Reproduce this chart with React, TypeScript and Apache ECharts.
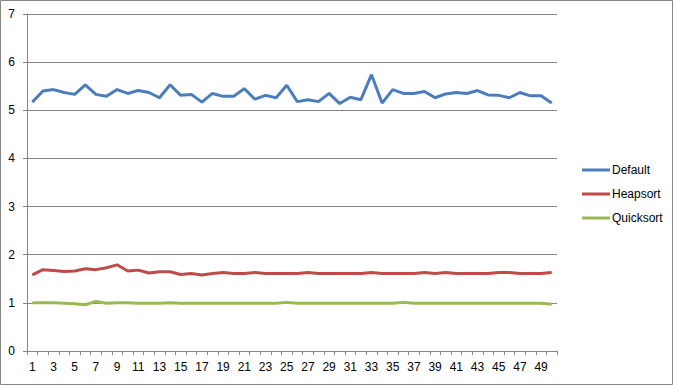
import React, { useEffect, useRef } from "react";
import * as echarts from "echarts";

const categories: string[] = Array.from({ length: 50 }, (_, i) => String(i + 1));

const defaultValues: number[] = [
  5.17, 5.4, 5.43, 5.37, 5.33, 5.53, 5.33, 5.29, 5.43, 5.35,
  5.41, 5.37, 5.26, 5.53, 5.31, 5.33, 5.17, 5.35, 5.29, 5.29,
  5.45, 5.23, 5.31, 5.26, 5.52, 5.18, 5.22, 5.18, 5.35, 5.14,
  5.27, 5.22, 5.74, 5.15, 5.43, 5.35, 5.35, 5.39, 5.26, 5.34,
  5.37, 5.35, 5.41, 5.32, 5.31, 5.26, 5.37, 5.3, 5.3, 5.15,
];

const heapsortValues: number[] = [
  1.58, 1.69, 1.67, 1.65, 1.66, 1.71, 1.69, 1.73, 1.79, 1.66,
  1.68, 1.62, 1.645, 1.645, 1.59, 1.61, 1.58, 1.61, 1.63, 1.61,
  1.61, 1.63, 1.61, 1.61, 1.61, 1.61, 1.63, 1.61, 1.61, 1.61,
  1.61, 1.61, 1.63, 1.61, 1.61, 1.61, 1.61, 1.63, 1.61, 1.63,
  1.61, 1.61, 1.61, 1.61, 1.63, 1.63, 1.61, 1.61, 1.61, 1.63,
];

const quicksortValues: number[] = [
  1.0, 1.0, 1.0, 0.99, 0.98, 0.96, 1.03, 0.99, 1.0, 1.0,
  0.99, 0.99, 0.99, 1.0, 0.99, 0.99, 0.99, 0.99, 0.99, 0.99,
  0.99, 0.99, 0.99, 0.99, 1.01, 0.99, 0.99, 0.99, 0.99, 0.99,
  0.99, 0.99, 0.99, 0.99, 0.99, 1.01, 0.99, 0.99, 0.99, 0.99,
  0.99, 0.99, 0.99, 0.99, 0.99, 0.99, 0.99, 0.99, 0.99, 0.97,
];

const seriesNames: string[] = ["Default", "Heapsort", "Quicksort"];
const seriesColors: string[] = ["#4A7EBB", "#BE4B48", "#98B954"];

export default function App() {
  const ref = useRef<HTMLDivElement>(null);

  useEffect(() => {
    if (!ref.current) return;
    const chart = echarts.init(ref.current, undefined, { renderer: "svg" });
    const font = "'Liberation Sans', Arial, sans-serif";
    const gray = "#868686";
    const seriesData = [defaultValues, heapsortValues, quicksortValues];
    chart.setOption({
      animation: false,
      backgroundColor: "#ffffff",
      textStyle: { fontFamily: font },
      grid: { left: 27, top: 14, right: 116, bottom: 34, containLabel: false },
      legend: {
        orient: "vertical",
        left: 577,
        top: 159,
        itemWidth: 28,
        itemHeight: 14,
        itemGap: 12,
        icon: "path://M0,6 L28,6 L28,9 L0,9 Z",
        textStyle: { fontFamily: font, fontSize: 12, color: "#000", padding: [0, 0, 0, -3] },
        data: seriesNames,
      },
      xAxis: {
        type: "category",
        data: categories,
        boundaryGap: true,
        axisLine: { show: true, lineStyle: { color: gray, width: 1 } },
        axisTick: { show: true, interval: 0, length: 4, lineStyle: { color: gray } },
        axisLabel: { interval: 1, color: "#000", fontFamily: font, fontSize: 12, margin: 10 },
        splitLine: { show: false },
      },
      yAxis: {
        type: "value",
        min: 0,
        max: 7,
        interval: 1,
        axisLine: { show: true, lineStyle: { color: gray, width: 1 } },
        axisTick: { show: true, length: 4, lineStyle: { color: gray } },
        axisLabel: { color: "#000", fontFamily: font, fontSize: 12, margin: 12 },
        splitLine: { show: true, lineStyle: { color: gray, width: 1 } },
      },
      graphic: [
        {
          type: "rect",
          shape: { x: 0.5, y: 0.5, width: 672, height: 384 },
          style: { fill: "none", stroke: gray, lineWidth: 1 },
          silent: true,
        },
      ],
      series: seriesNames.map((name, i) => ({
        name,
        type: "line",
        data: seriesData[i],
        showSymbol: false,
        symbol: "none",
        lineStyle: { color: seriesColors[i], width: 3 },
        itemStyle: { color: seriesColors[i] },
      })),
    });
    return () => chart.dispose();
  }, []);

  return (
    <div
      ref={ref}
      style={{ position: "absolute", left: 0, top: 0, width: 673, height: 385 }}
    />
  );
}
